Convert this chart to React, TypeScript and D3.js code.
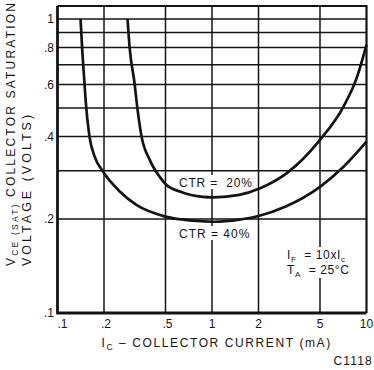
import React from "react";
import * as d3 from "d3";

// ── Data ─────────────────────────────────────────────────────────────────────
const ctr20I = [0.284, 0.293, 0.316, 0.324, 0.35, 0.396, 0.459, 0.508, 0.62, 0.874, 1.03, 1.5, 2.05, 3.05, 5, 7.1, 8.7, 10];
const ctr20V = [1.0, 0.8, 0.6, 0.532, 0.4, 0.328, 0.285, 0.266, 0.252, 0.241, 0.24, 0.245, 0.259, 0.294, 0.389, 0.505, 0.638, 0.817];

const ctr40I = [0.141, 0.1443, 0.1497, 0.152, 0.161, 0.174, 0.197, 0.253, 0.324, 0.5, 0.753, 1.03, 1.5, 2, 3, 5, 7.1, 10];
const ctr40V = [1.0, 0.8, 0.6, 0.532, 0.4, 0.338, 0.298, 0.252, 0.225, 0.204, 0.1975, 0.196, 0.199, 0.205, 0.222, 0.262, 0.31, 0.383];

const xGrid = [0.2, 0.5, 1, 2, 5];
const yGrid = [0.2, 0.3, 0.4, 0.5, 0.6, 0.7, 0.8, 0.9, 1.0];
const xTicks = [0.1, 0.2, 0.5, 1, 2, 5, 10];
const xTickLabels = [".1", ".2", ".5", "1", "2", "5", "10"];
const yTicks = [0.1, 0.2, 0.4, 0.6, 0.8, 1];
const yTickLabels = [".1", ".2", ".4", ".6", ".8", "1"];

const W = 374;
const H = 370;
const FONT = "'Liberation Sans', Arial, Helvetica, sans-serif";
const INK = "#141414";

// frame
const left = 57.5;
const right = 366.5;
const top = 6;
const bottom = 313;

export default function App() {
  const x = d3.scaleLog().domain([0.1, 10]).range([left, right]);
  // the printed log grid is slightly uneven, so the y scale is piecewise
  const y = d3.scaleLog().domain([0.1, 0.2, 0.4, 1]).range([bottom, 219, 136.5, 19]);

  const line = d3
    .line<[number, number]>()
    .x((d) => x(d[0]))
    .y((d) => y(d[1]))
    .curve(d3.curveMonotoneX);

  const p20 = line(ctr20I.map((v, i) => [v, ctr20V[i]] as [number, number])) ?? "";
  const p40 = line(ctr40I.map((v, i) => [v, ctr40V[i]] as [number, number])) ?? "";

  const txt = { fontFamily: FONT, fill: INK } as const;

  return (
    <svg
      width={W}
      height={H}
      viewBox={`0 0 ${W} ${H}`}
      style={{ position: "absolute", left: 0, top: 0, background: "#fff", display: "block" }}
    >
      <rect width={W} height={H} fill="#fff" />

      {/* grid */}
      {xGrid.map((v) => (
        <line key={"gx" + v} x1={x(v)} x2={x(v)} y1={top} y2={bottom} stroke={INK} strokeWidth={1.5} />
      ))}
      {yGrid.map((v) => (
        <line key={"gy" + v} x1={left} x2={right} y1={y(v)} y2={y(v)} stroke={INK} strokeWidth={1.5} />
      ))}

      {/* curves */}
      <path d={p20} fill="none" stroke={INK} strokeWidth={2.7} />
      <path d={p40} fill="none" stroke={INK} strokeWidth={2.7} />

      {/* frame */}
      <path d={`M${left},${top}H${right}V${bottom}`} fill="none" stroke={INK} strokeWidth={2.2} />
      <path d={`M${left},${top}V${bottom}H${right}`} fill="none" stroke={INK} strokeWidth={2.8} />

      {/* curve labels */}
      <rect x={178} y={175} width={76} height={14} fill="#fff" />
      <text x={179} y={186.5} fontSize={12} letterSpacing={0.8} style={{ whiteSpace: "pre" }} {...txt}>
        {"CTR =  20%"}
      </text>
      <rect x={178} y={226} width={76} height={14} fill="#fff" />
      <text x={179} y={237.5} fontSize={12} letterSpacing={1} style={{ whiteSpace: "pre" }} {...txt}>
        {"CTR = 40%"}
      </text>

      {/* conditions */}
      <rect x={285} y={247} width={70} height={31} fill="#fff" />
      <text x={287} y={259} fontSize={12} letterSpacing={0.6} style={{ whiteSpace: "pre" }} {...txt}>
        <tspan>I</tspan>
        <tspan fontSize={8} dy={2.5}>F</tspan>
        <tspan dy={-2.5}>{"  = 10xI"}</tspan>
        <tspan fontSize={8} dy={2.5}>c</tspan>
      </text>
      <text x={287} y={274} fontSize={12} letterSpacing={0.6} style={{ whiteSpace: "pre" }} {...txt}>
        <tspan>T</tspan>
        <tspan fontSize={8} dy={2.5}>A</tspan>
        <tspan dy={-2.5}>{"  = 25°C"}</tspan>
      </text>

      {/* tick labels */}
      {xTicks.map((v, i) => (
        <text
          key={"xt" + v}
          x={x(v) + (v < 1 ? (v === 0.1 ? 5 : 2) : 0)}
          y={328}
          fontSize={12}
          textAnchor="middle"
          {...txt}
        >
          {xTickLabels[i]}
        </text>
      ))}
      {yTicks.map((v, i) => (
        <text key={"yt" + v} x={54} y={y(v) + 4} fontSize={12} textAnchor="end" {...txt}>
          {yTickLabels[i]}
        </text>
      ))}

      {/* axis titles */}
      <text x={101.5} y={347} fontSize={12} letterSpacing={1.6} style={{ whiteSpace: "pre" }} {...txt}>
        <tspan>I</tspan>
        <tspan fontSize={8.5} dy={2.5}>C</tspan>
        <tspan dy={-2.5}>{" – COLLECTOR CURRENT (mA)"}</tspan>
      </text>
      <text x={373} y={365} fontSize={12} letterSpacing={1.2} textAnchor="end" {...txt}>
        C1118
      </text>

      <text transform="translate(15,266) rotate(-90)" fontSize={12} letterSpacing={2.2} style={{ whiteSpace: "pre" }} {...txt}>
        <tspan>V</tspan>
        <tspan fontSize={8.5} dy={2.5}>{"CE (SAT)"}</tspan>
        <tspan dy={-2.5}>{" COLLECTOR SATURATION"}</tspan>
      </text>
      <text transform="translate(30.5,266) rotate(-90)" fontSize={12.5} letterSpacing={3} style={{ whiteSpace: "pre" }} {...txt}>
        VOLTAGE (VOLTS)
      </text>
    </svg>
  );
}
